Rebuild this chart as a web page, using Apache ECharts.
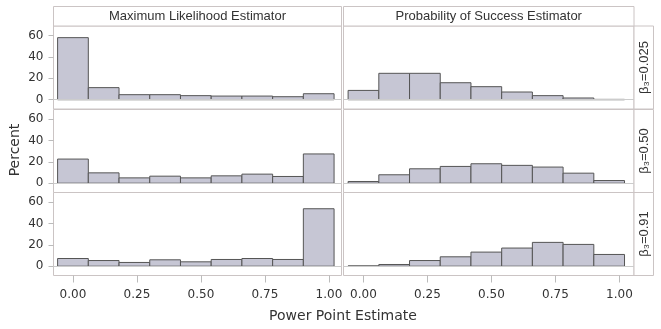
<!DOCTYPE html>
<html>
<head>
<meta charset="utf-8">
<script src="https://cdn.jsdelivr.net/npm/echarts@6/dist/echarts.min.js"></script>
<style>
  html, body { margin: 0; padding: 0; background: #fff; }
  #chart { width: 661px; height: 329px; }
</style>
</head>
<body>
<div id="chart"></div>
<script>
  // histogram bins (centers), width 0.12
  const binCenters = [0, 0.12, 0.24, 0.36, 0.48, 0.60, 0.72, 0.84, 0.96];
  const binWidth = 0.12;

  const columns = ['Maximum Likelihood Estimator', 'Probability of Success Estimator'];
  const rows = ['β₃=0.025', 'β₃=0.50', 'β₃=0.91'];

  // percent per bin, row by row
  const mle025 = [58.1, 11.3, 4.7, 4.7, 3.8, 3.4, 3.4, 2.8, 5.6];
  const pos025 = [8.7, 24.7, 24.7, 15.9, 12.2, 7.2, 3.8, 1.6, 0.3];
  const mle050 = [22.6, 9.7, 5.0, 6.6, 5.0, 6.9, 8.5, 6.3, 27.4];
  const pos050 = [1.6, 7.9, 13.5, 15.7, 18.2, 16.7, 15.1, 9.4, 2.5];
  const mle091 = [7.2, 5.3, 3.5, 6.0, 4.1, 6.3, 7.2, 6.3, 53.8];
  const pos091 = [0.3, 1.6, 5.3, 8.8, 13.2, 17.0, 22.3, 20.4, 11.0];

  const panelData = [[mle025, pos025], [mle050, pos050], [mle091, pos091]];

  const yTicks = [0, 20, 40, 60];
  const xTicks = [0, 0.25, 0.5, 0.75, 1];

  const chart = echarts.init(document.getElementById('chart'));

  const border = '#cbc4c4';
  const textColor = '#333';
  const colLeft = [53.5, 343.5];
  const colWidth = [288, 290.5];
  const xMin = [-0.076, -0.078];
  const xMax = [1.049, 1.057];
  const rowTop = [26, 109.5, 192.5];
  const rowHeight = 83;

  let grids = [], xAxes = [], yAxes = [], series = [];
  for (let r = 0; r < 3; r++) {
    for (let c = 0; c < 2; c++) {
      const i = grids.length;
      grids.push({
        left: colLeft[c], top: rowTop[r], width: colWidth[c], height: rowHeight,
        show: true, borderColor: border, borderWidth: 1, backgroundColor: '#fff'
      });
      xAxes.push({
        type: 'value', gridIndex: i, min: xMin[c], max: xMax[c], position: 'bottom',
        axisLine: { show: false, onZero: false },
        splitLine: { show: false },
        axisTick: { show: r === 2, customValues: xTicks, length: 7, lineStyle: { color: '#bbb' } },
        axisLabel: {
          show: r === 2, customValues: xTicks, margin: 13,
          color: textColor, fontFamily: 'DejaVu Sans', fontSize: 12,
          formatter: (v) => v.toFixed(2)
        }
      });
      yAxes.push({
        type: 'value', gridIndex: i, min: -8.7, max: 69, position: 'left',
        axisLine: { show: false, onZero: false },
        splitLine: { show: false },
        axisTick: { show: c === 0, customValues: yTicks, length: 5, lineStyle: { color: '#bbb' } },
        axisLabel: {
          show: c === 0, customValues: yTicks, margin: 10,
          color: textColor, fontFamily: 'DejaVu Sans', fontSize: 12
        }
      });
      series.push({
        type: 'custom', xAxisIndex: i, yAxisIndex: i,
        data: binCenters.map((x, k) => [x, panelData[r][c][k]]),
        encode: { x: 0, y: 1 },
        renderItem: (params, api) => {
          const center = api.value(0), v = api.value(1);
          const p0 = api.coord([center - binWidth / 2, v]);
          const p1 = api.coord([center + binWidth / 2, 0]);
          return {
            type: 'rect',
            shape: { x: p0[0], y: p0[1], width: p1[0] - p0[0], height: p1[1] - p0[1] },
            style: { fill: '#c6c6d4', stroke: '#555', lineWidth: 1 }
          };
        },
        markLine: {
          silent: true, symbol: 'none', label: { show: false },
          lineStyle: { color: '#ccc', type: 'solid', width: 1 },
          data: [{ yAxis: 0 }]
        },
        z: 3
      });
    }
  }

  // facet headers and row strips
  let graphics = [];
  for (let c = 0; c < 2; c++) {
    graphics.push({
      type: 'rect', shape: { x: colLeft[c], y: 6.5, width: colWidth[c], height: 19.5 },
      style: { fill: '#fff', stroke: border, lineWidth: 1 }
    });
    graphics.push({
      type: 'text', x: colLeft[c] + colWidth[c] / 2, y: 16.5,
      style: { text: columns[c], fill: textColor, font: '13px "Liberation Sans"', align: 'center', verticalAlign: 'middle' }
    });
  }
  for (let r = 0; r < 3; r++) {
    graphics.push({
      type: 'rect', shape: { x: 634, y: rowTop[r], width: 19.5, height: rowHeight },
      style: { fill: '#fff', stroke: border, lineWidth: 1 }
    });
    graphics.push({
      type: 'text', x: 644, y: rowTop[r] + rowHeight / 2, rotation: Math.PI / 2,
      style: { text: rows[r], fill: textColor, font: '13px "Liberation Sans"', align: 'center', verticalAlign: 'middle' }
    });
  }
  graphics.push({
    type: 'text', x: 15, y: 150, rotation: Math.PI / 2,
    style: { text: 'Percent', fill: textColor, font: '14px "DejaVu Sans"', align: 'center', verticalAlign: 'middle' }
  });
  graphics.push({
    type: 'text', x: 343, y: 316,
    style: { text: 'Power Point Estimate', fill: textColor, font: '14px "DejaVu Sans"', align: 'center', verticalAlign: 'middle' }
  });

  chart.setOption({
    animation: false,
    backgroundColor: '#fff',
    grid: grids,
    xAxis: xAxes,
    yAxis: yAxes,
    series: series,
    graphic: graphics
  });
</script>
</body>
</html>
